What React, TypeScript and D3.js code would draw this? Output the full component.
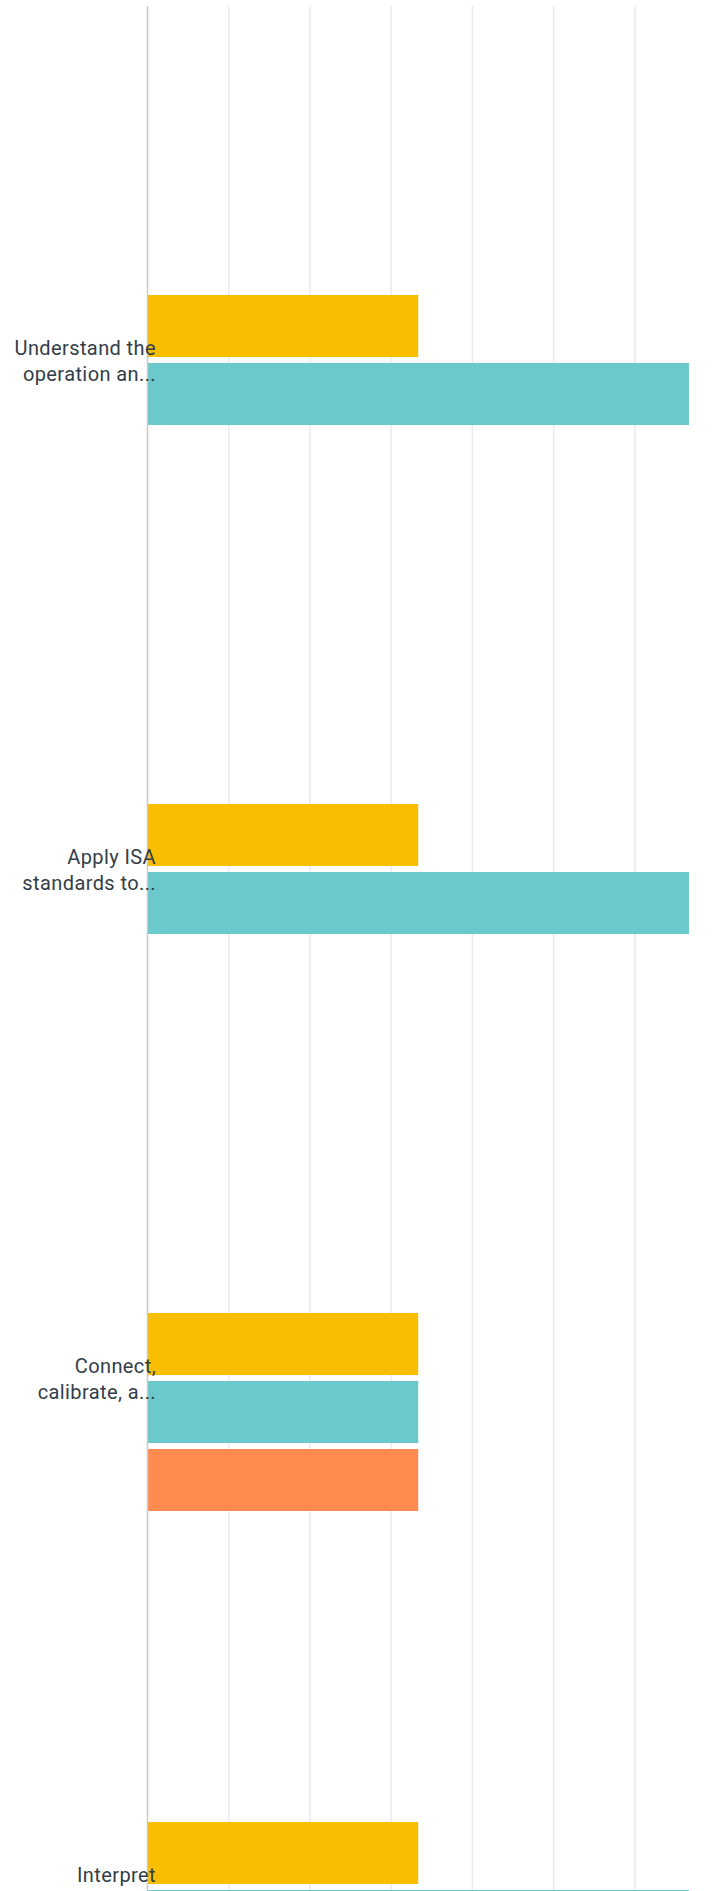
import React from "react";
import * as d3 from "d3";

const categories = ["Understand the", "Apply ISA", "Connect,", "Interpret"];
const categoryLines: string[][] = [
  ["Understand the", "operation an..."],
  ["Apply ISA", "standards to..."],
  ["Connect,", "calibrate, a..."],
  ["Interpret"],
];
const seriesNames = ["Series 1", "Series 2", "Series 3"];
const series1 = [33.33, 33.33, 33.33, 33.33];
const series2 = [66.67, 66.67, 33.33, 66.67];
const series3 = [0, 0, 33.33, 0];
const tickValues = [0, 10, 20, 30, 40, 50, 60];

const colors = ["#F9BE00", "#6BC8CD", "#FF8B4F"];

const W = 715;
const H = 1891;

export default function App() {
  const x = d3.scaleLinear().domain([0, 70]).range([147.5, 716]);
  const step = 509;
  const y = d3
    .scaleBand<string>()
    .domain(categories)
    .range([107.5, 107.5 + step * categories.length])
    .padding(0);
  const inner = d3
    .scaleBand<string>()
    .domain(seriesNames)
    .range([0, 198])
    .paddingInner(6 / 68)
    .paddingOuter(0);
  const allSeries = [series1, series2, series3];

  return (
    <svg
      width={W}
      height={H}
      style={{ position: "absolute", left: 0, top: 0, background: "#fff" }}
    >
      {tickValues.slice(1).map((t) => (
        <line
          key={t}
          x1={x(t)}
          x2={x(t)}
          y1={6}
          y2={H}
          stroke="#ebebeb"
          strokeWidth={1.5}
        />
      ))}
      {categories.map((c, ci) => {
        const center = (y(c) as number) + y.bandwidth() / 2;
        const start = center - 67;
        return (
          <g key={c}>
            {allSeries.map((s, si) =>
              s[ci] > 0 ? (
                <rect
                  key={si}
                  x={x(0)}
                  y={start + (inner(seriesNames[si]) as number)}
                  width={x(s[ci]) - x(0)}
                  height={inner.bandwidth()}
                  fill={colors[si]}
                />
              ) : null
            )}
          </g>
        );
      })}
      <line
        x1={x(0)}
        x2={x(0)}
        y1={6}
        y2={H}
        stroke="#c9c9c9"
        strokeWidth={1.5}
      />
      {categories.map((c, ci) => {
        const center = (y(c) as number) + y.bandwidth() / 2;
        return (
          <text
            key={c}
            x={156}
            y={center - 7}
            textAnchor="end"
            fontFamily="Roboto, sans-serif"
            fontSize={20}
            letterSpacing={0.4}
            fill="#333e48"
          >
            {categoryLines[ci].map((l, li) => (
              <tspan key={li} x={156} dy={li === 0 ? 0 : 25.5}>
                {l}
              </tspan>
            ))}
          </text>
        );
      })}
    </svg>
  );
}
